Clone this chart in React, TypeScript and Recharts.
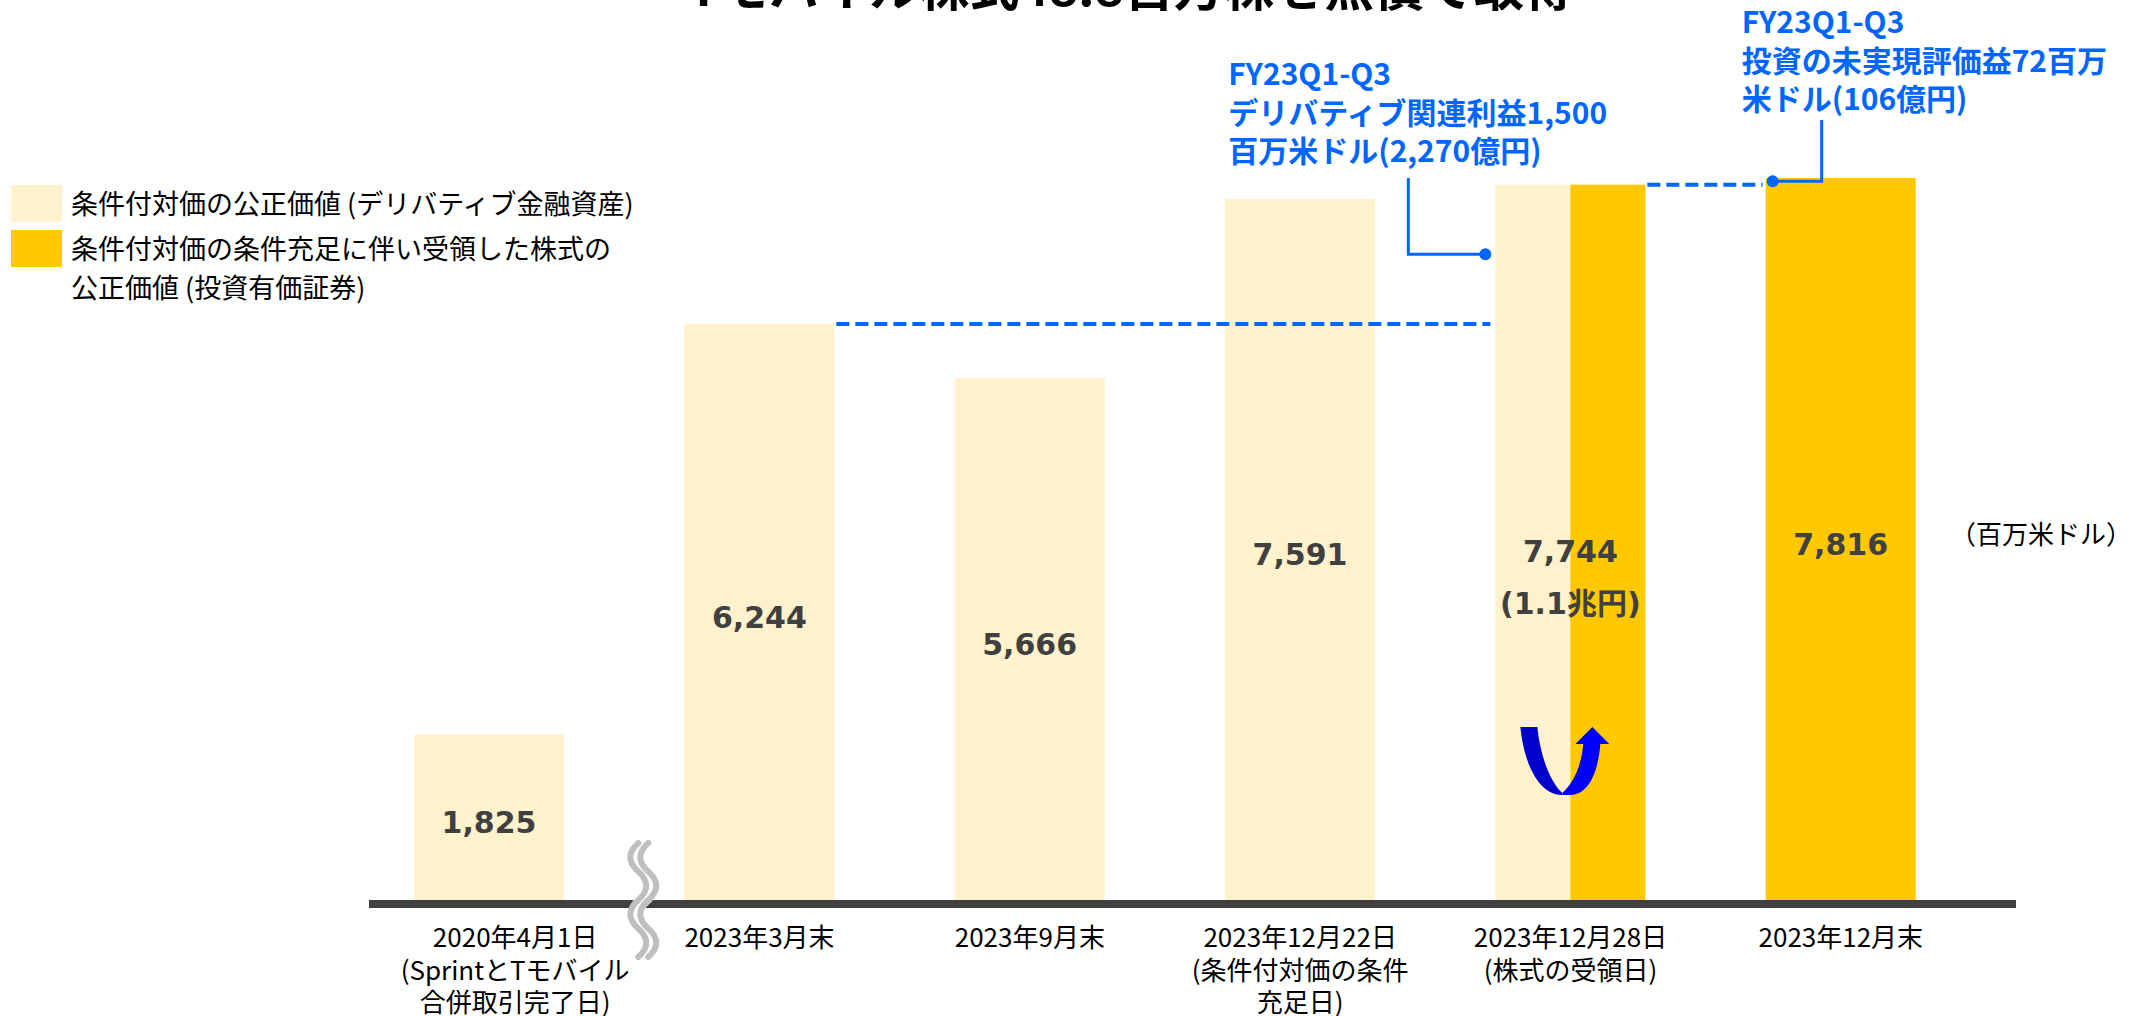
import { Bar, BarChart, LabelList, XAxis, YAxis } from "recharts";

const categories = ["2020年4月1日", "2023年3月末", "2023年9月末", "2023年12月22日", "2023年12月28日", "2023年12月末"];
const subLabels = [["(SprintとTモバイル", "合併取引完了日)"], [], [], ["(条件付対価の条件", "充足日)"], ["(株式の受領日)"], []];
const derivativeValues = [1825, 6244, 5666, 7591, 7744, null];
const shareValues = [null, null, null, null, 7744, 7816];
const yenNote = "(1.1兆円)";
const derivativeGain = ["FY23Q1-Q3", "デリバティブ関連利益1,500", "百万米ドル(2,270億円)"];
const unrealizedGain = ["FY23Q1-Q3", "投資の未実現評価益72百万", "米ドル(106億円)"];
const legendItems = [
  { color: "#FFF2CC", lines: ["条件付対価の公正価値 (デリバティブ金融資産)"] },
  { color: "#FFC800", lines: ["条件付対価の条件充足に伴い受領した株式の", "公正価値 (投資有価証券)"] },
];
const title = "Tモバイル株式48.8百万株を無償で取得";
const unitLabel = "（百万米ドル）";

const data = categories.map((name, i) => ({ name, derivative: derivativeValues[i], shares: shareValues[i] }));

const W = 2143;
const H = 1016;
const MARGIN = { top: 68, right: 127, bottom: 12, left: 369 };
const PAD = { left: -15, right: 40 };
const BAND = (W - MARGIN.left - MARGIN.right - PAD.left - PAD.right) / categories.length;
const BAR_W = 150;

const LIGHT = "#FFF2CC";
const GOLD = "#FFC800";
const BLUE = "#0066FF";
const JP = "'Noto Sans CJK JP', 'Noto Sans', sans-serif";
const NUM = "'DejaVu Sans', 'Noto Sans CJK JP', sans-serif";

function Annotation({ x, y, lines }: { x: number; y: number; lines: string[] }) {
  return (
    <text x={x} y={y} fill={BLUE} fontSize={30} fontWeight={700} fontFamily={JP}>
      {lines.map((l, i) => (
        <tspan key={i} x={x} dy={i === 0 ? 0 : 38.5}>
          {l}
        </tspan>
      ))}
    </text>
  );
}

function UTurnArrow({ cx, top }: { cx: number; top: number }) {
  return (
    <g transform={`translate(${cx},${top})`}>
      <path d="M -50 0 L -33 0 C -30 30 -20 55 -8 66 L -8 68 C -30 68 -46 40 -50 0 Z" fill="#0000CC" />
      <path d="M -8 66 C 4 55 11 38 13 17 L 5 17 L 22 0 L 39 17 L 30 17 C 28 45 18 68 0 68 L -8 68 Z" fill="#0000FF" />
    </g>
  );
}

function wavePath(cx: number, y0: number, h: number, amp: number, n: number) {
  let d = `M ${cx} ${y0}`;
  const step = h / n;
  for (let i = 0; i < n; i++) {
    const s = i % 2 === 0 ? -1 : 1;
    d += ` q ${s * amp * 2} ${step / 2} 0 ${step}`;
  }
  return d;
}

function BreakMark({ cx, y0, h }: { cx: number; y0: number; h: number }) {
  return (
    <g fill="none" strokeLinecap="round">
      <path d={wavePath(cx, y0, h, 8, 4)} stroke="#fff" strokeWidth={14} />
      <path d={wavePath(cx - 5, y0, h, 8, 4)} stroke="#BFBFBF" strokeWidth={6} />
      <path d={wavePath(cx + 5, y0, h, 8, 4)} stroke="#BFBFBF" strokeWidth={6} />
    </g>
  );
}

function CategoryTick(props: any) {
  const { x, y, payload } = props;
  const idx = categories.indexOf(payload.value);
  const lines = [payload.value, ...(subLabels[idx] || [])];
  const tx = idx === 0 ? x + 26 : x;
  return (
    <g>
      <text x={tx} y={y + 43} textAnchor="middle" fontSize={26} fontFamily={JP} fill="#000">
        {lines.map((l, i) => (
          <tspan key={i} x={tx} dy={i === 0 ? 0 : 32.5}>
            {l}
          </tspan>
        ))}
      </text>
      {idx === 0 && <BreakMark cx={x + BAND * 0.57} y0={y - 61} h={114} />}
    </g>
  );
}

function DerivativeShape(props: any) {
  const { x, y, width, height, payload } = props;
  if (!height || payload.derivative == null) return null;
  const idx = categories.indexOf(payload.name);
  return <rect x={x} y={y} width={idx === 4 ? width / 2 : width} height={height} fill={LIGHT} />;
}

function SharesShape(props: any) {
  const { x, y, width, height, payload } = props;
  if (!height || payload.shares == null) return null;
  const idx = categories.indexOf(payload.name);
  const base = y + height;
  const k = height / payload.shares;
  const at = (v: number) => base - v * k;
  if (idx === 4) {
    const before = derivativeValues[1] as number;
    const mid = (before + payload.shares) / 2;
    return (
      <g>
        <rect x={x + width / 2} y={y} width={width / 2} height={height} fill={GOLD} />
        <line x1={x - 3 * BAND + width + 2} x2={x - 5} y1={at(before)} y2={at(before)} stroke={BLUE} strokeWidth={4} strokeDasharray="13 6" />
        <polyline points={`${x - 10},${at(mid)} ${x - 87},${at(mid)} ${x - 87},${base - 726}`} fill="none" stroke={BLUE} strokeWidth={3} />
        <circle cx={x - 10} cy={at(mid)} r={6} fill={BLUE} />
        <Annotation x={x - 267} y={base - 819} lines={derivativeGain} />
        <UTurnArrow cx={x + width / 2} top={base - 177} />
      </g>
    );
  }
  const prev = shareValues[4] as number;
  const mid = (prev + payload.shares) / 2;
  return (
    <g>
      <rect x={x} y={y} width={width} height={height} fill={GOLD} />
      <line x1={x - BAND + width + 2} x2={x - 3} y1={at(prev)} y2={at(prev)} stroke={BLUE} strokeWidth={4} strokeDasharray="13 6" />
      <polyline points={`${x + 7},${at(mid)} ${x + 56},${at(mid)} ${x + 56},${base - 784}`} fill="none" stroke={BLUE} strokeWidth={3} />
      <circle cx={x + 7} cy={at(mid)} r={6} fill={BLUE} />
      <Annotation x={x - 24} y={base - 871} lines={unrealizedGain} />
    </g>
  );
}

function ValueLabel(props: any) {
  const { x, y, width, height, value, split } = props;
  if (value == null || !height) return null;
  const cx = x + width / 2;
  const cy = y + height / 2;
  return (
    <text x={cx} y={cy + (split ? 7 : 3)} textAnchor="middle" dominantBaseline="central" fontSize={30} fontWeight={700} fontFamily={NUM} fill="#404040">
      <tspan x={cx}>{Number(value).toLocaleString("en-US")}</tspan>
      {split && (
        <tspan x={cx} dy={52}>
          {yenNote}
        </tspan>
      )}
    </text>
  );
}

export default function App() {
  return (
    <div style={{ position: "absolute", left: 0, top: 0, width: W, height: H, background: "#fff", overflow: "hidden", fontFamily: JP }}>
      <div style={{ position: "absolute", left: 0, width: 2262, top: -41, textAlign: "center", fontSize: 50, fontWeight: 700, lineHeight: "50px", color: "#000", whiteSpace: "nowrap" }}>
        {title}
      </div>
      <BarChart width={W} height={H} data={data} margin={MARGIN} barGap={-BAR_W}>
        <YAxis hide domain={[0, 9000]} />
        <Bar dataKey="derivative" barSize={BAR_W} fill={LIGHT} shape={DerivativeShape} isAnimationActive={false}>
          <LabelList dataKey="derivative" content={(p: any) => (p.value === derivativeValues[4] ? null : <ValueLabel {...p} />)} />
        </Bar>
        <Bar dataKey="shares" barSize={BAR_W} fill={GOLD} shape={SharesShape} isAnimationActive={false}>
          <LabelList dataKey="shares" content={(p: any) => <ValueLabel {...p} split={p.value === shareValues[4]} />} />
        </Bar>
        <XAxis
          dataKey="name"
          height={100}
          padding={PAD}
          axisLine={{ stroke: "#404040", strokeWidth: 8 }}
          tickLine={false}
          tickSize={0}
          tickMargin={0}
          interval={0}
          tick={<CategoryTick />}
        />
      </BarChart>
      {legendItems.map((item, i) => (
        <div key={i} style={{ position: "absolute", left: 11, top: i === 0 ? 185 : 230, display: "flex", alignItems: "flex-start" }}>
          <div style={{ width: 51, height: 37, background: item.color, flex: "none" }} />
          <div style={{ marginLeft: 9, marginTop: -2, fontSize: 27, lineHeight: "39px", color: "#000", whiteSpace: "nowrap" }}>
            {item.lines.map((l, j) => (
              <div key={j}>{l}</div>
            ))}
          </div>
        </div>
      ))}
      <div style={{ position: "absolute", left: 1950, top: 516, fontSize: 26, lineHeight: "34px", color: "#000", whiteSpace: "nowrap" }}>{unitLabel}</div>
    </div>
  );
}
